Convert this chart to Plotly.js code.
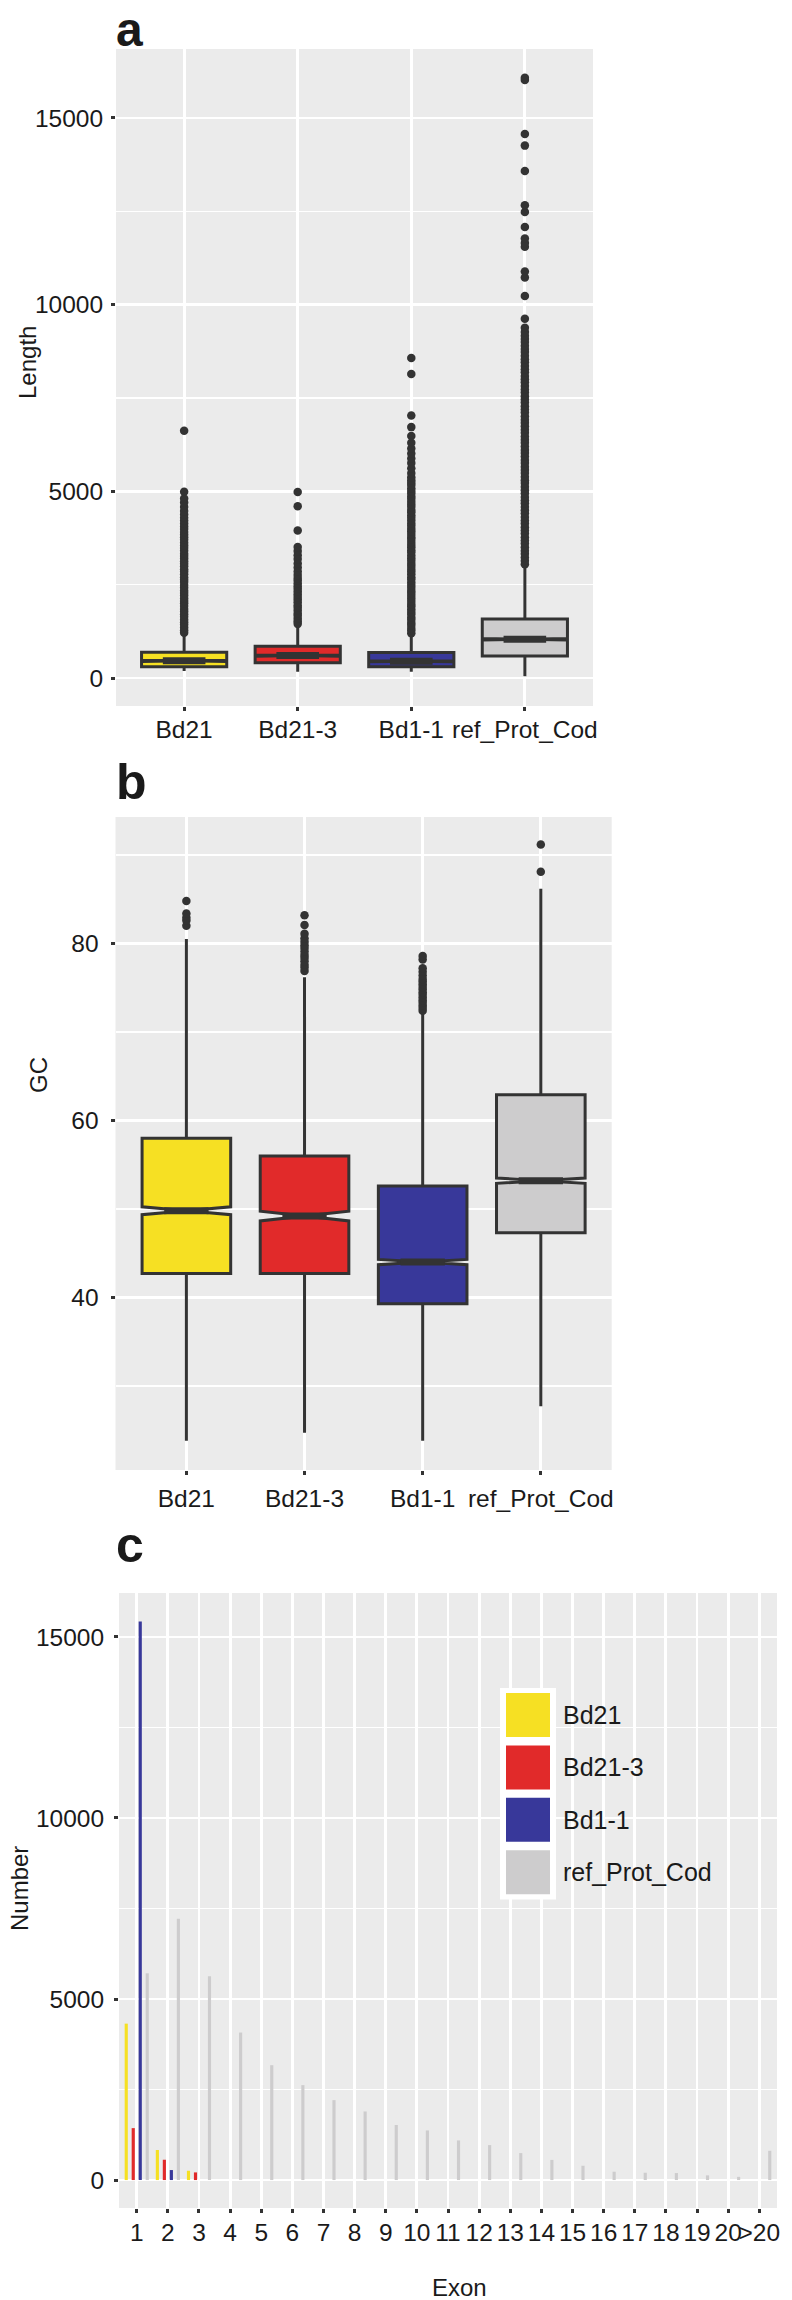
<!DOCTYPE html>
<html><head><meta charset="utf-8">
<script src="https://cdn.plot.ly/plotly-3.0.1.min.js"></script>
<style>html,body{margin:0;padding:0;background:#fff}</style>
</head><body><div id="chart" style="width:792px;height:2300px"></div>
<script>
// ---------- data ----------
const groups = ['Bd21', 'Bd21-3', 'Bd1-1', 'ref_Prot_Cod'];
const colors = ['#F6E023', '#E12A2A', '#38389A', '#CDCCCD'];

// panel a: Length
const lenTicks = [0, 5000, 10000, 15000];
const lenTickText = ['0', '5000', '10000', '15000'];
const lenQ1 = [300, 410, 300, 590];
const lenMed = [460, 600, 450, 1040];
const lenQ3 = [690, 850, 680, 1580];
const lenLow = [190, 170, 170, 50];
const lenHigh = [1190, 1420, 1180, 3000];
const lenNotch = [15, 18, 12, 20];
const lenOutBd21 = [1210, 1280, 1350, 1430, 1490, 1560, 1640, 1710, 1780, 1850, 1930, 2000, 2060, 2130, 2210, 2280, 2340, 2420, 2490, 2570, 2630, 2700, 2780, 2850, 2910, 2990, 3060, 3130, 3200, 3270, 3330, 3410, 3480, 3550, 3620, 3700, 3770, 3840, 3910, 3990, 4060, 4140, 4220, 4290, 4380, 4470, 4580, 4700, 4810, 4990, 6620];
const lenOutBd213 = [1450, 1520, 1590, 1670, 1730, 1810, 1880, 1950, 2030, 2100, 2170, 2240, 2320, 2390, 2460, 2530, 2610, 2680, 2760, 2850, 2960, 3070, 3190, 3290, 3400, 3510, 3950, 4600, 4980];
const lenOutBd11 = [1200, 1270, 1340, 1420, 1480, 1560, 1620, 1700, 1770, 1840, 1920, 1980, 2060, 2130, 2200, 2280, 2340, 2420, 2490, 2560, 2640, 2700, 2780, 2850, 2920, 3000, 3060, 3140, 3210, 3280, 3360, 3420, 3500, 3570, 3640, 3720, 3780, 3860, 3930, 4000, 4080, 4140, 4220, 4290, 4360, 4440, 4500, 4580, 4650, 4720, 4800, 4860, 4940, 5010, 5080, 5170, 5230, 5300, 5380, 5490, 5620, 5760, 5880, 6010, 6150, 6300, 6480, 6720, 7030, 8140, 8570];
const lenOutRef = [3050, 3140, 3230, 3330, 3410, 3500, 3600, 3680, 3770, 3870, 3950, 4040, 4140, 4220, 4310, 4410, 4490, 4580, 4680, 4760, 4850, 4950, 5030, 5120, 5220, 5300, 5390, 5490, 5570, 5660, 5760, 5840, 5930, 6030, 6110, 6200, 6300, 6380, 6470, 6570, 6650, 6740, 6840, 6920, 7010, 7110, 7190, 7280, 7380, 7460, 7550, 7650, 7730, 7820, 7920, 8000, 8090, 8190, 8270, 8360, 8460, 8540, 8630, 8730, 8810, 8900, 9000, 9080, 9170, 9270, 9380, 9620, 10230, 10730, 10890, 11550, 11650, 11770, 12080, 12480, 12660, 13580, 14260, 14570, 16020, 16080];

// panel b: GC
const gcTicks = [40, 60, 80];
const gcQ1 = [42.7, 42.7, 39.3, 47.3];
const gcMed = [49.8, 49.2, 44.0, 53.2];
const gcQ3 = [58.0, 56.0, 52.6, 62.9];
const gcLow = [23.8, 24.7, 23.8, 27.7];
const gcHigh = [80.5, 76.2, 72.2, 86.2];
const gcNotch = [0.45, 0.55, 0.3, 0.3];
const gcOutBd21 = [82.0, 82.6, 82.9, 83.4, 84.8];
const gcOutBd213 = [76.9, 77.3, 77.6, 78.0, 78.4, 78.7, 79.1, 79.5, 79.8, 80.2, 80.6, 81.1, 82.1, 83.2];
const gcOutBd11 = [72.4, 72.7, 73.0, 73.3, 73.6, 73.9, 74.2, 74.5, 74.8, 75.1, 75.4, 75.7, 76.0, 76.4, 76.8, 77.2, 78.2, 78.6];
const gcOutRef = [88.1, 91.2];

// panel c: Exon counts
const exonCats = ['1','2','3','4','5','6','7','8','9','10','11','12','13','14','15','16','17','18','19','20','>20'];
const exonBd21 = [4320, 830, 257, 0, 0, 0, 0, 0, 0, 0, 0, 0, 0, 0, 0, 0, 0, 0, 0, 0, 0];
const exonBd213 = [1434, 561, 211, 0, 0, 0, 0, 0, 0, 0, 0, 0, 0, 0, 0, 0, 0, 0, 0, 0, 0];
const exonBd11 = [15430, 276, 0, 0, 0, 0, 0, 0, 0, 0, 0, 0, 0, 0, 0, 0, 0, 0, 0, 0, 0];
const exonRef = [5710, 7214, 5628, 4074, 3172, 2621, 2207, 1894, 1520, 1370, 1094, 965, 745, 556, 395, 230, 202, 193, 129, 88, 809];
const exonTicks = [0, 5000, 10000, 15000];
const exonTickText = ['0', '5000', '10000', '15000'];

// ---------- drawing ----------
const W = 792, H = 2300;
const FONT = 'Liberation Sans, Arial, sans-serif';
const INK = '#1a1a1a';
const EDGE = '#333333';
const BOXW = 0.75;
const px = v => v / W;
const py = v => 1 - v / H;
const dx = (a, b) => [px(a), px(b)];
const dy = (top, bottom) => [py(bottom), py(top)];

const data = [];
function boxPanel(xa, ya, q1, med, q3, lo, hi, notch, outs) {
  groups.forEach((g, i) => {
    data.push({
      type: 'box', xaxis: xa, yaxis: ya, x: [i], name: g,
      q1: [q1[i]], median: [med[i]], q3: [q3[i]],
      lowerfence: [lo[i]], upperfence: [hi[i]],
      notched: true, notchspan: [notch[i]], notchwidth: 0.5,
      width: BOXW, whiskerwidth: 0, boxpoints: false,
      fillcolor: colors[i], line: {color: EDGE, width: 3},
      hoverinfo: 'skip', showlegend: false
    });
  });
  // thick median bars (ggplot fatten)
  const mx = [], my = [];
  groups.forEach((g, i) => {
    mx.push(i - BOXW / 4, i + BOXW / 4, null);
    my.push(med[i], med[i], null);
  });
  data.push({type: 'scatter', mode: 'lines', xaxis: xa, yaxis: ya, x: mx, y: my,
    line: {color: EDGE, width: 7}, hoverinfo: 'skip', showlegend: false});
  // outliers
  const ox = [], oy = [];
  outs.forEach((arr, i) => arr.forEach(v => { ox.push(i); oy.push(v); }));
  data.push({type: 'scatter', mode: 'markers', xaxis: xa, yaxis: ya, x: ox, y: oy,
    marker: {color: EDGE, size: 8.5}, hoverinfo: 'skip', showlegend: false});
}
boxPanel('x', 'y', lenQ1, lenMed, lenQ3, lenLow, lenHigh, lenNotch,
  [lenOutBd21, lenOutBd213, lenOutBd11, lenOutRef]);
boxPanel('x2', 'y2', gcQ1, gcMed, gcQ3, gcLow, gcHigh, gcNotch,
  [gcOutBd21, gcOutBd213, gcOutBd11, gcOutRef]);

[exonBd21, exonBd213, exonBd11, exonRef].forEach((vals, i) => {
  data.push({type: 'bar', xaxis: 'x3', yaxis: 'y3', x: exonCats, y: vals, name: groups[i],
    marker: {color: colors[i], line: {width: 0}}, hoverinfo: 'skip', showlegend: false});
});

const tickFont = {family: FONT, size: 24.5, color: INK};
const baseAxis = {
  showgrid: true, gridcolor: '#FFFFFF', gridwidth: 2.8, zeroline: false, showline: false,
  ticks: 'outside', ticklen: 4, tickwidth: 3, tickcolor: EDGE, tickfont: tickFont,
  fixedrange: true
};
const minorGrid = vals => ({tickvals: vals, showgrid: true, gridcolor: '#FFFFFF', gridwidth: 1.6, ticks: ''});

const layout = {
  width: W, height: H, margin: {l: 0, r: 0, t: 0, b: 0},
  paper_bgcolor: '#FFFFFF', plot_bgcolor: '#EBEBEB',
  showlegend: false, boxmode: 'overlay', barmode: 'group', bargap: 0.1, bargroupgap: 0.55,
  font: {family: FONT, color: INK},
  xaxis: Object.assign({}, baseAxis, {domain: dx(116, 593), anchor: 'y', range: [-0.6, 3.6],
    tickvals: [0, 1, 2, 3], ticktext: groups, ticklabelstandoff: -2}),
  yaxis: Object.assign({}, baseAxis, {domain: dy(49, 706), anchor: 'x', range: [-750, 16848],
    tickvals: lenTicks, ticktext: lenTickText, minor: minorGrid([2500, 7500, 12500]), ticklabelstandoff: 3}),
  xaxis2: Object.assign({}, baseAxis, {domain: dx(115.5, 611.7), anchor: 'y2', range: [-0.6, 3.6],
    tickvals: [0, 1, 2, 3], ticktext: groups, ticklabelstandoff: 3}),
  yaxis2: Object.assign({}, baseAxis, {domain: dy(817, 1470), anchor: 'x2', range: [20.5, 94.3],
    tickvals: gcTicks, ticktext: gcTicks.map(String), minor: minorGrid([30, 50, 70, 90]), ticklabelstandoff: 7}),
  xaxis3: Object.assign({}, baseAxis, {domain: dx(119, 777), anchor: 'y3', type: 'category',
    range: [-0.57, 20.57], tickangle: 0, ticklabelstandoff: -1}),
  yaxis3: Object.assign({}, baseAxis, {domain: dy(1593, 2208), anchor: 'x3', range: [-772, 16214],
    tickvals: exonTicks, ticktext: exonTickText, minor: minorGrid([2500, 7500, 12500]), ticklabelstandoff: 5}),
  annotations: [],
  shapes: []
};

function note(text, x, y, size, opts) {
  layout.annotations.push(Object.assign({
    text: text, xref: 'paper', yref: 'paper', x: px(x), y: py(y),
    xanchor: 'center', yanchor: 'middle', showarrow: false,
    font: {family: FONT, size: size, color: INK}
  }, opts || {}));
}
// panel letters
note('<b>a</b>', 114, 1, 48, {xanchor: 'left', yanchor: 'top'});
note('<b>b</b>', 114, 782, 50, {xanchor: 'left'});
note('<b>c</b>', 114, 1545, 50, {xanchor: 'left'});
// axis titles
note('Length', 27, 362, 24, {textangle: -90});
note('GC', 38, 1075, 24, {textangle: -90});
note('Number', 19, 1889, 24, {textangle: -90});
note('Exon', 459, 2287, 24);

// manual legend for panel c
const legX0 = 500, legY0 = 1688, keySize = 44, keyPitch = 52.4;
layout.shapes.push({type: 'rect', xref: 'paper', yref: 'paper',
  x0: px(legX0), x1: px(legX0 + 56), y0: py(legY0), y1: py(legY0 + 4 * keyPitch + 2),
  fillcolor: '#FFFFFF', line: {width: 0}, layer: 'above'});
groups.forEach((g, i) => {
  const top = legY0 + 5 + i * keyPitch;
  layout.shapes.push({type: 'rect', xref: 'paper', yref: 'paper',
    x0: px(legX0 + 6), x1: px(legX0 + 6 + keySize), y0: py(top + keySize), y1: py(top),
    fillcolor: colors[i], line: {width: 0}, layer: 'above'});
  note(g, 561, top + keySize / 2, 25, {xanchor: 'left'});
});

Plotly.newPlot('chart', data, layout, {staticPlot: true});
</script>
</body></html>
